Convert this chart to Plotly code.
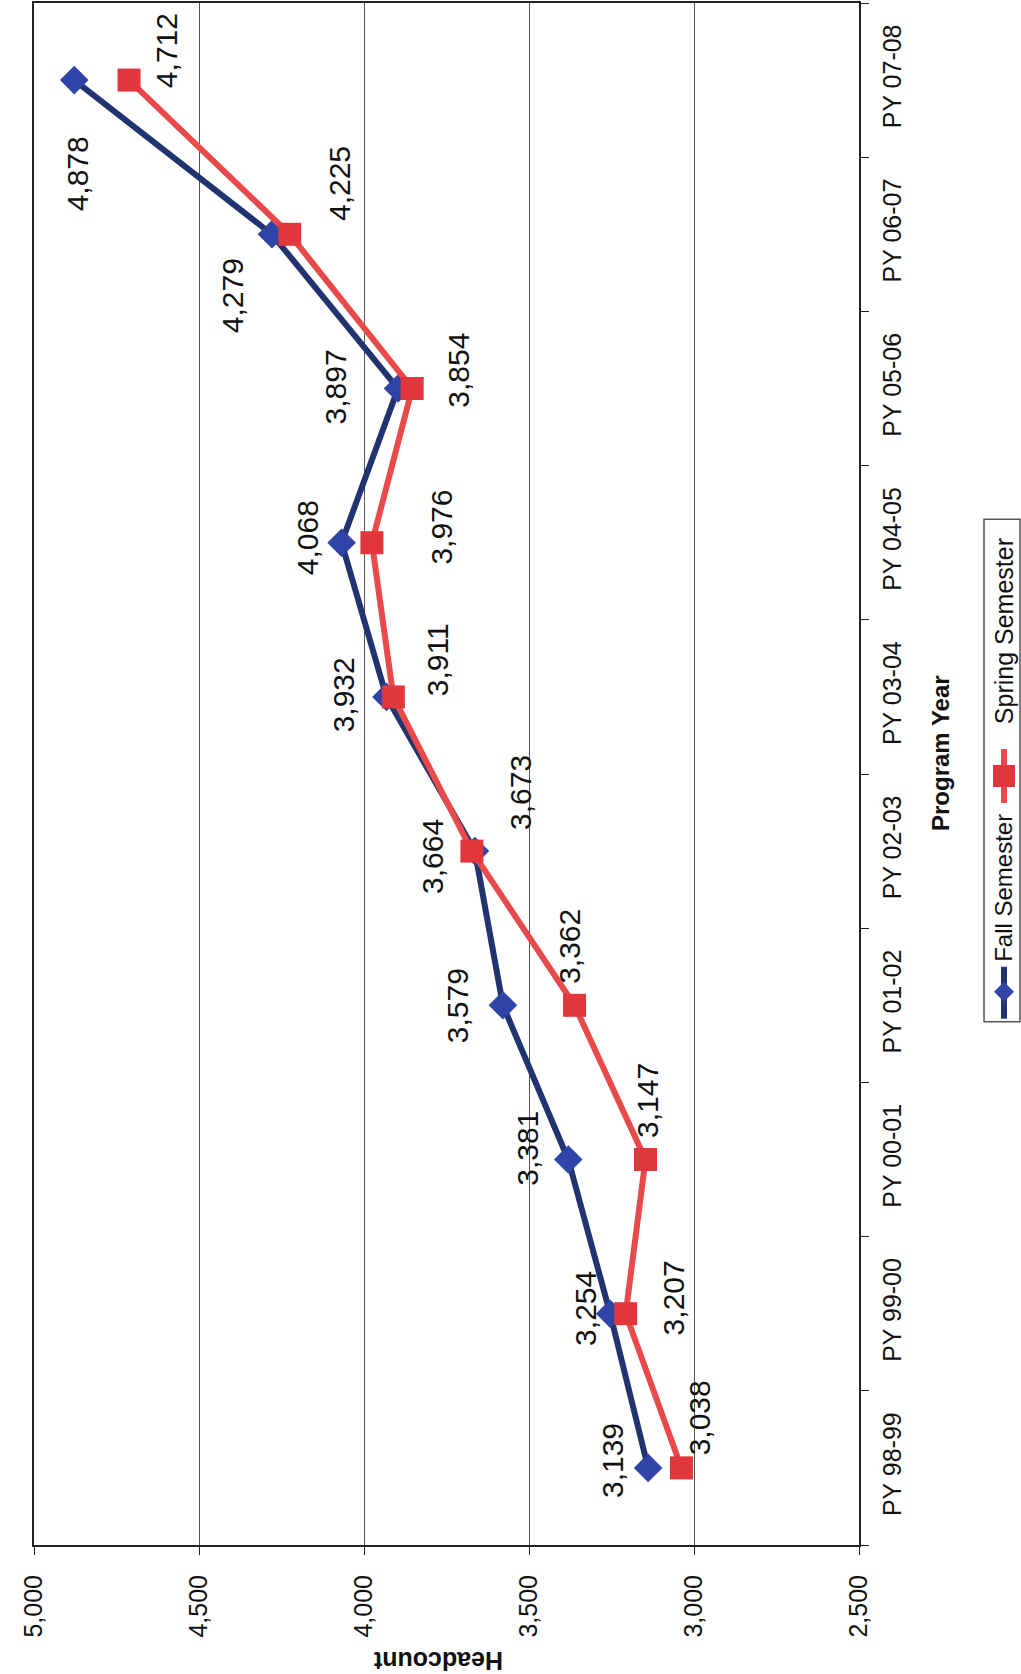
import plotly.graph_objects as go

categories = ["PY 98-99", "PY 99-00", "PY 00-01", "PY 01-02", "PY 02-03",
              "PY 03-04", "PY 04-05", "PY 05-06", "PY 06-07", "PY 07-08"]
fall = [3139, 3254, 3381, 3579, 3664, 3932, 4068, 3897, 4279, 4878]
spring = [3038, 3207, 3147, 3362, 3673, 3911, 3976, 3854, 4225, 4712]
value_ticks = [2500, 3000, 3500, 4000, 4500, 5000]

# label offsets (screen px: dx right, dy down)
fall_off = [(-35, -7), (-24, -5), (-41, -11), (-46, 0), (-43, 5), (-43, -2),
            (-34, -5), (-62, -2), (-40, 61), (3, 94)]
spring_off = [(18, -50), (48, -16), (2, -59), (-5, -59), (48, -59), (45, -37),
              (70, -16), (46, -18), (50, -51), (37, -29)]

W, H = 1021, 1674
L, R, T, B = 34, 859, 1, 1545
FONT = "Liberation Sans, Arial, sans-serif"
FALL_LINE = "#22346f"
FALL_MARK = "#2f44a6"
SPR_LINE = "#e84a4c"
SPR_MARK = "#e2363d"

fig = go.Figure()
fig.add_trace(go.Scatter(x=fall, y=categories, mode="lines+markers", name="Fall Semester",
                         line=dict(color=FALL_LINE, width=6),
                         marker=dict(symbol="diamond", size=22, color=FALL_MARK)))
fig.add_trace(go.Scatter(x=spring, y=categories, mode="lines+markers", name="Spring Semester",
                         line=dict(color=SPR_LINE, width=6),
                         marker=dict(symbol="square", size=23, color=SPR_MARK)))

ann = []
for vals, offs in ((fall, fall_off), (spring, spring_off)):
    for c, v, (dx, dy) in zip(categories, vals, offs):
        ann.append(dict(x=v, y=c, xref="x", yref="y", text=f"{v:,}", showarrow=False,
                        xanchor="center", yanchor="middle",
                        textangle=-90, font=dict(size=30, color="#111", family=FONT),
                        xshift=dx, yshift=-dy))

def px(xp):
    return (xp - L) / (R - L)

def py(yp):
    return (B - yp) / (B - T)

def label(xp, yp, text, angle, size):
    return dict(x=px(xp), y=py(yp), xref="paper", yref="paper", text=text,
                showarrow=False, xanchor="center", yanchor="middle", textangle=angle,
                font=dict(size=size, color="#111", family=FONT))

# axis titles
ann.append(label(940, 752, "<b>Program Year</b>", -90, 24))
ann.append(label(438, 1661, "<b>Headcount</b>", 180, 25))
# legend text
ann.append(label(1004, 887, "Fall Semester", -90, 24))
ann.append(label(1004, 630, "Spring Semester", -90, 25))

shapes = [
    dict(type="rect", xref="paper", yref="paper", x0=px(984), x1=px(1020), y0=py(1021), y1=py(518),
         line=dict(color="#555", width=1.5), fillcolor="rgba(0,0,0,0)"),
    dict(type="line", xref="paper", yref="paper", x0=px(1004), x1=px(1004), y0=py(1018), y1=py(966),
         line=dict(color=FALL_LINE, width=6)),
    dict(type="path", xref="paper", yref="paper", xsizemode="pixel", ysizemode="pixel",
         xanchor=px(1004), yanchor=py(991), path="M 0 10 L 10 0 L 0 -10 L -10 0 Z",
         fillcolor=FALL_MARK, line=dict(width=0)),
    dict(type="line", xref="paper", yref="paper", x0=px(1004), x1=px(1004), y0=py(802), y1=py(748),
         line=dict(color=SPR_LINE, width=6)),
    dict(type="path", xref="paper", yref="paper", xsizemode="pixel", ysizemode="pixel",
         xanchor=px(1004), yanchor=py(775), path="M -11 -11 L 11 -11 L 11 11 L -11 11 Z",
         fillcolor=SPR_MARK, line=dict(width=0)),
]

fig.update_layout(
    width=W, height=H,
    margin=dict(l=L, r=W - R, t=T, b=H - B, pad=0),
    paper_bgcolor="white", plot_bgcolor="white",
    showlegend=False,
    font=dict(family=FONT, color="#111"),
    annotations=ann, shapes=shapes,
    xaxis=dict(range=[5000, 2500], tickvals=value_ticks, tickformat=",",
               showgrid=True, gridcolor="#555", gridwidth=1, zeroline=False,
               showline=True, linecolor="#222", linewidth=2, mirror=True,
               ticks="outside", ticklen=8, tickcolor="#222", tickangle=-90,
               tickfont=dict(size=25, family=FONT, color="#111"), ticklabelstandoff=10),
    yaxis=dict(type="category", categoryorder="array", categoryarray=categories,
               range=[-0.5, 9.5], side="right", showgrid=False, zeroline=False,
               showline=True, linecolor="#222", linewidth=2, mirror=True,
               ticks="outside", ticklen=8, tickcolor="#222", tickson="boundaries",
               tickangle=-90, tickfont=dict(size=25, family=FONT, color="#111"),
               ticklabelstandoff=10),
)

fig.write_html("out.html", config={"displayModeBar": False},
               post_script="document.body.style.margin='0';document.body.style.overflow='hidden';")
